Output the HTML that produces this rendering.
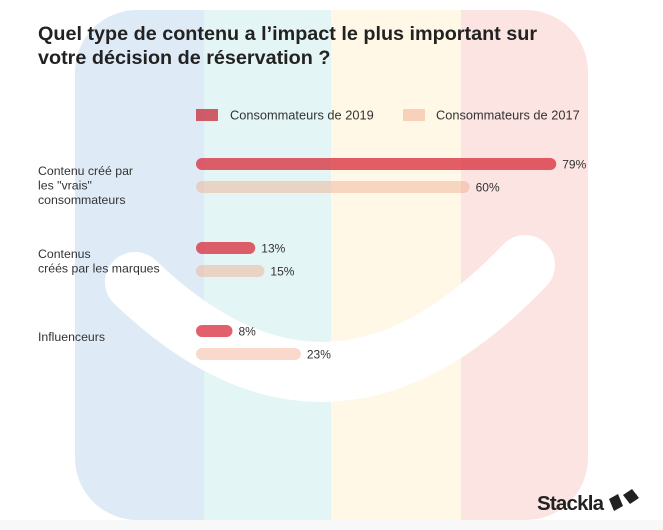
<!DOCTYPE html>
<html><head><meta charset="utf-8"><style>
body{margin:0;width:663px;height:530px;overflow:hidden;background:#fff;font-family:"Liberation Sans",sans-serif}
svg{display:block}
</style></head><body>
<svg width="663" height="530" xmlns="http://www.w3.org/2000/svg">
<defs><clipPath id="bgclip"><rect x="75" y="10" width="513" height="510" rx="62" ry="62"/></clipPath></defs>
<rect x="0" y="520" width="663" height="10" fill="#f8f8f8"/>
<g clip-path="url(#bgclip)">
<rect x="75" y="10" width="129" height="510" fill="#deebf7"/>
<rect x="204" y="10" width="127" height="510" fill="#e4f5f5"/>
<rect x="331" y="10" width="130" height="510" fill="#fff8e7"/>
<rect x="461" y="10" width="127" height="510" fill="#fce4e2"/>
</g>
<path d="M135 282 Q330 470 525 265" stroke="#fff" stroke-width="60" fill="none" stroke-linecap="round"/>
<text x="38" y="40" font-size="19.8" font-weight="bold" fill="#222">Quel type de contenu a l’impact le plus important sur</text>
<text x="38" y="64" font-size="19.8" font-weight="bold" fill="#222">votre décision de réservation ?</text>
<rect x="196" y="109" width="22" height="12" fill="rgba(200,40,55,0.75)"/>
<text x="230" y="119.5" font-size="12.8" fill="#333">Consommateurs de  2019</text>
<rect x="403" y="109" width="22" height="12" fill="rgba(240,170,140,0.5)"/>
<text x="436" y="119.5" font-size="12.8" fill="#333">Consommateurs de 2017</text>
<g id="labels" font-size="12.3" fill="#333">
<text x="38" y="175"><tspan x="38">Contenu créé par</tspan><tspan x="38" dy="14.5">les "vrais"</tspan><tspan x="38" dy="14.5">consommateurs</tspan></text>
<text x="38" y="258"><tspan x="38">Contenus</tspan><tspan x="38" dy="14.5">créés par les marques</tspan></text>
<text x="38" y="341">Influenceurs</text>
</g>
<g id="bars"></g>
<text x="537" y="510" font-size="20.5" font-weight="bold" fill="#222" letter-spacing="-0.8">Stackla</text>
<g fill="#222">
<path d="M609 499 l9 -5 l5 12 l-9 5z"/><path d="M623 495 l9 -6 l7 9 l-9 6z"/><path d="M631 491 l6 4 l-2 6z"/>
</g>
</svg>
<script>
const categories=["consumers","brands","influencers"];
const values2019=[79,13,8];
const values2017=[60,15,23];
const rowY=[164,248,331];
const x0=196, pxPer=4.56, h=12, gap=23;
function xs(v){return v*pxPer;}
const g=document.getElementById('bars');
const ns="http://www.w3.org/2000/svg";
function bar(v,y,fill,name){
  const r=document.createElementNS(ns,'rect');
  r.setAttribute('x',x0);r.setAttribute('y',y-h/2);
  r.setAttribute('width',xs(v));r.setAttribute('height',h);
  r.setAttribute('rx',6);r.setAttribute('fill',fill);
  
  
  g.appendChild(r);
  const t=document.createElementNS(ns,'text');
  t.setAttribute('x',x0+xs(v)+6);t.setAttribute('y',y+4.5);
  t.setAttribute('font-size','12');t.setAttribute('fill','#333');
  t.textContent=v+'%';
  
  
  g.appendChild(t);
}
categories.forEach((c,i)=>{
  bar(values2019[i],rowY[i],'rgba(215,35,50,0.72)','bar-2019-'+c);
  bar(values2017[i],rowY[i]+gap,'rgba(240,170,140,0.45)','bar-2017-'+c);
});
</script>
</body></html>
